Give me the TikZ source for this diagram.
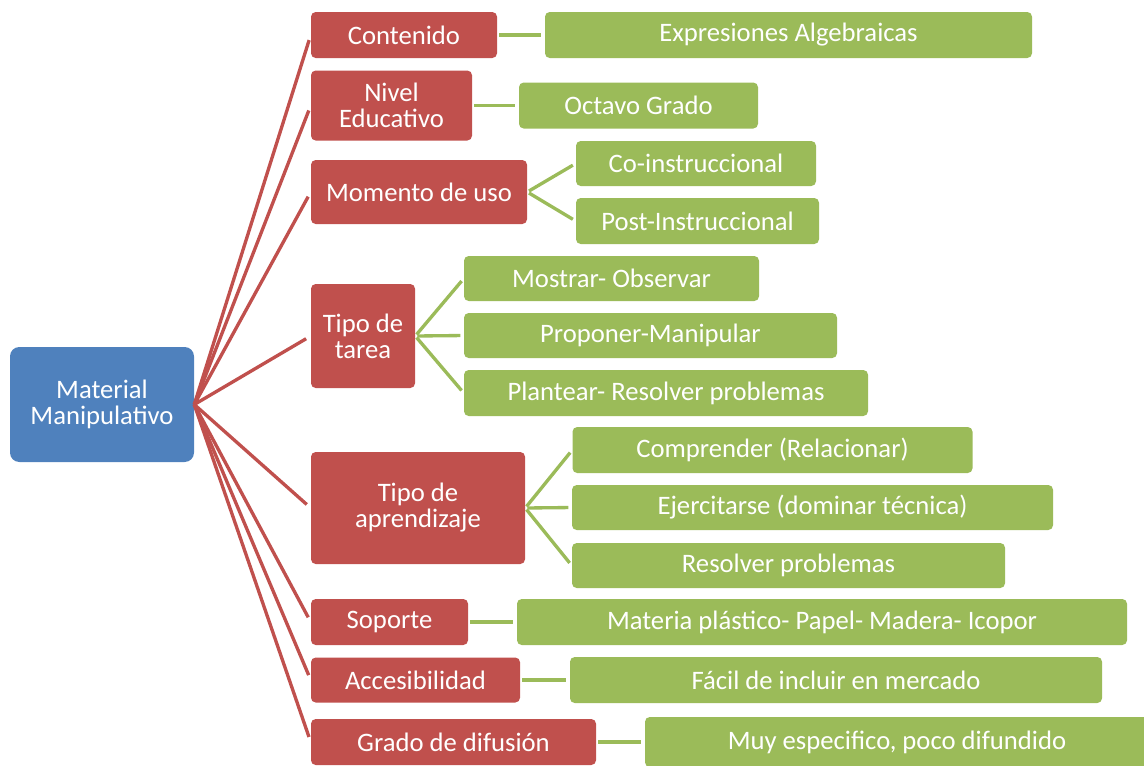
\documentclass[tikz,border=0pt]{standalone}
\usepackage{fontspec}
\setmainfont{Carlito}
\definecolor{azulR}{HTML}{4F81BD}
\definecolor{rojoC}{HTML}{C0504D}
\definecolor{verdeH}{HTML}{9BBB59}
\begin{document}
\begin{tikzpicture}[x=0.75pt,y=0.75pt,yscale=-1,xscale=1,
	caja/.style 2 args={minimum width=#1*0.75pt,minimum height=#2*0.75pt,inner sep=0pt,rounded corners=3.5pt,text=white,align=center,font={\fontsize{20}{19.5}\selectfont}},
	raiz/.style={fill=azulR,rounded corners=7pt},
	categoria/.style={fill=rojoC},
	valor/.style={fill=verdeH},
	rama/.style={draw=rojoC,line width=2.5pt,shorten >=4pt},
	hoja/.style={draw=verdeH,line width=2.5pt,shorten <=1.5pt,shorten >=2.5pt}]
	\useasboundingbox (0,0) rectangle (1144,765);

	%Shape: Rectangle [root]
	\node [caja={184}{115},raiz] (mat) at (102,404.5) {Material\\Manipulativo};

	%Shape: Rectangle [categorias]
	\node [caja={186}{46},categoria] (cont) at (404,35) {Contenido};
	\node [caja={161}{70},categoria] (nivel) at (391.5,105.5) {Nivel\\Educativo};
	\node [caja={216}{64},categoria] (mom) at (419,192) {Momento de uso};
	\node [caja={104}{104},categoria] (tarea) at (363,336) {Tipo de\\tarea};
	\node [caja={214}{112},categoria] (apren) at (418,508) {Tipo de\\aprendizaje};
	\node [caja={157}{46},categoria] (sop) at (389.5,622) {Soporte};
	\node [caja={209}{45},categoria] (acc) at (415.5,680) {Accesibilidad};
	\node [caja={285}{46},categoria] (grado) at (453.5,742) {Grado de difusión};

	%Shape: Rectangle [valores]
	\node [caja={487}{46},valor] (expr) at (788.5,35) {Expresiones Algebraicas};
	\node [caja={239}{46},valor] (octavo) at (638.5,105.5) {Octavo Grado};
	\node [caja={240}{45},valor] (co) at (696,163.5) {Co-instruccional};
	\node [caja={243}{46},valor] (post) at (697.5,221) {Post-Instruccional};
	\node [caja={295}{45},valor] (mostrar) at (611.5,278.5) {Mostrar- Observar};
	\node [caja={373}{45},valor] (proponer) at (650.5,335.5) {Proponer-Manipular};
	\node [caja={404}{46},valor] (plantear) at (666,393) {Plantear- Resolver problemas};
	\node [caja={400}{46},valor] (compr) at (772.5,450) {Comprender (Relacionar)};
	\node [caja={481}{45},valor] (ejer) at (812.5,507.5) {Ejercitarse (dominar técnica)};
	\node [caja={433}{45},valor] (resol) at (788.5,565.5) {Resolver problemas};
	\node [caja={610}{46},valor] (materia) at (822,622) {Materia plástico- Papel- Madera- Icopor};
	\node [caja={532}{46},valor] (facil) at (836,680) {Fácil de incluir en mercado};
	\node [caja={504}{50},valor] (muy) at (897,742) {Muy especifico, poco difundido};

	%Straight Lines [root to categorias]
	\draw [rama] (mat.east) -- (cont.west);
	\draw [rama] (mat.east) -- (nivel.west);
	\draw [rama] (mat.east) -- (mom.west);
	\draw [rama] (mat.east) -- (tarea.west);
	\draw [rama] (mat.east) -- (apren.west);
	\draw [rama] (mat.east) -- (sop.west);
	\draw [rama] (mat.east) -- (acc.west);
	\draw [rama] (mat.east) -- (grado.west);

	%Straight Lines [categorias to valores]
	\draw [hoja] (cont.east) -- (expr.west);
	\draw [hoja] (nivel.east) -- (octavo.west);
	\draw [hoja] (mom.east) -- (co.west);
	\draw [hoja] (mom.east) -- (post.west);
	\draw [hoja] (tarea.east) -- (mostrar.west);
	\draw [hoja] (tarea.east) -- (proponer.west);
	\draw [hoja] (tarea.east) -- (plantear.west);
	\draw [hoja] (apren.east) -- (compr.west);
	\draw [hoja] (apren.east) -- (ejer.west);
	\draw [hoja] (apren.east) -- (resol.west);
	\draw [hoja] (sop.east) -- (materia.west);
	\draw [hoja] (acc.east) -- (facil.west);
	\draw [hoja] (grado.east) -- (muy.west);

\end{tikzpicture}
\end{document}
